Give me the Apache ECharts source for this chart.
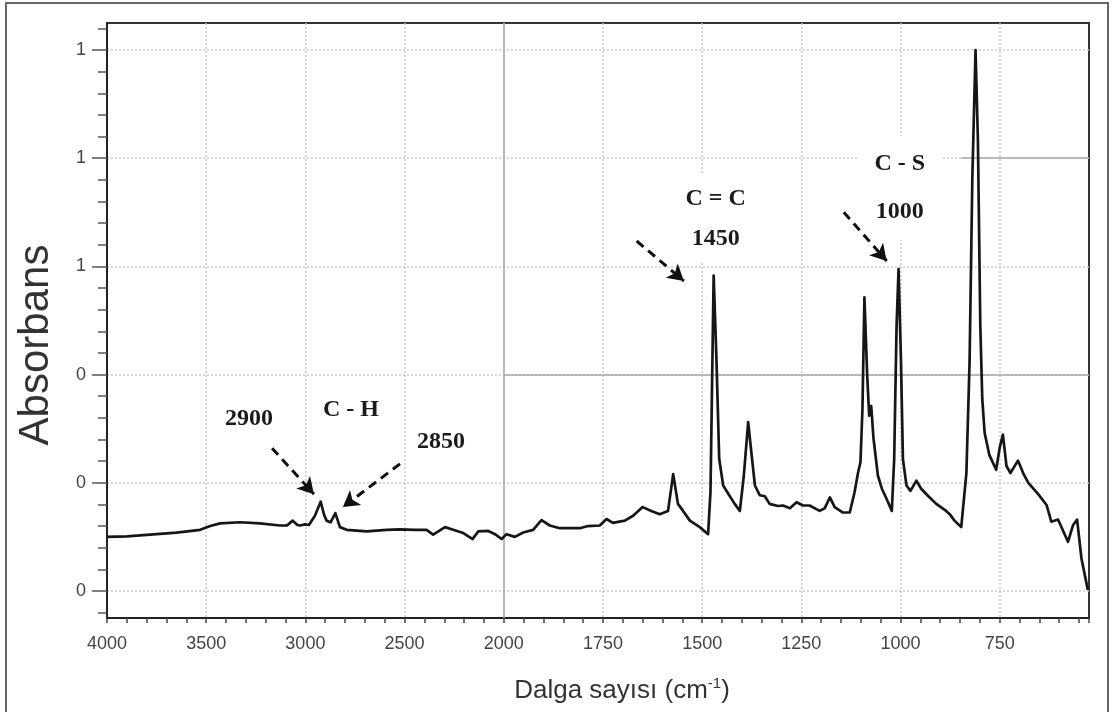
<!DOCTYPE html>
<html>
<head>
<meta charset="utf-8">
<script src="https://cdn.jsdelivr.net/npm/echarts@6/dist/echarts.min.js"></script>
<style>
  html, body { margin: 0; padding: 0; background: #fff; }
  #chart { width: 1112px; height: 712px; }
</style>
</head>
<body>
<div id="chart"></div>
<script>
// ---- data (wavenumber cm-1, absorbance) ----
const wavenumbers = [4000,3900,3783,3650,3530,3480,3430,3330,3229,3128,3093,3064,3040,3027,3002,2982,2952,2923,2905,2893,2873,2849,2826,2792,2692,2590,2523,2450,2389,2356,2330,2296,2255,2204,2157,2129,2078,2044,2011,1993,1972,1951,1926,1905,1884,1859,1808,1788,1758,1741,1725,1695,1674,1650,1628,1607,1586,1573,1561,1548,1531,1506,1485,1479,1471,1464,1457,1447,1431,1418,1405,1395,1384,1376,1367,1355,1342,1330,1309,1296,1279,1262,1246,1229,1204,1191,1178,1166,1145,1128,1116,1107,1101,1096,1091,1084,1079,1074,1068,1057,1047,1035,1022,1016,1010,1005,999,994,985,975,960,948,931,910,885,876,864,847,834,826,819,811,805,799,794,788,776,759,750,742,733,723,704,691,678,653,632,620,603,578,565,555,544,528];
const absorbance = [0.100,0.101,0.104,0.108,0.113,0.120,0.125,0.127,0.125,0.121,0.121,0.130,0.122,0.121,0.123,0.122,0.139,0.165,0.140,0.130,0.127,0.144,0.118,0.113,0.110,0.113,0.114,0.113,0.113,0.104,0.110,0.118,0.113,0.107,0.096,0.110,0.111,0.105,0.096,0.105,0.100,0.108,0.113,0.131,0.121,0.116,0.116,0.120,0.121,0.133,0.126,0.130,0.139,0.155,0.148,0.142,0.148,0.216,0.161,0.148,0.130,0.118,0.105,0.183,0.583,0.429,0.244,0.195,0.176,0.161,0.148,0.213,0.312,0.256,0.195,0.177,0.175,0.161,0.157,0.158,0.153,0.164,0.158,0.158,0.148,0.153,0.173,0.155,0.145,0.145,0.182,0.219,0.238,0.336,0.543,0.398,0.324,0.342,0.281,0.213,0.189,0.170,0.148,0.244,0.490,0.595,0.429,0.244,0.195,0.185,0.204,0.189,0.176,0.161,0.148,0.142,0.130,0.118,0.218,0.423,0.765,1.000,0.834,0.492,0.355,0.292,0.251,0.224,0.265,0.289,0.231,0.218,0.241,0.218,0.200,0.179,0.159,0.128,0.132,0.091,0.122,0.132,0.060,0.002];

// ---- axis ticks ----
const xTickLabels = ['4000','3500','3000','2500','2000','1750','1500','1250','1000','750'];
const yTickValues = [0, 0.2, 0.4, 0.6, 0.8, 1.0];
const yTickLabels = ['0','0','0','1','1','1'];
const yMinorTickValues = [-0.04,0,0.04,0.08,0.12,0.16,0.2,0.24,0.28,0.32,0.36,0.4,0.44,0.48,0.52,0.56,0.6,0.64,0.68,0.72,0.76,0.8,0.84,0.88,0.92,0.96,1.0,1.04];

// ---- annotations (wavenumber, absorbance) ----
const annotationTexts = [
  { text: 'C = C\n1450', wn: 1466, a: 0.688, lh: 40 },
  { text: 'C - S\n1000', wn: 1002, a: 0.745, lh: 48 },
  { text: '2900', wn: 3284, a: 0.318, lh: 28 },
  { text: 'C - H', wn: 2770, a: 0.335, lh: 28 },
  { text: '2850', wn: 2317, a: 0.275, lh: 28 }
];
const annotationArrows = [
  { from: [1665, 0.647], to: [1546, 0.573] },
  { from: [1143, 0.700], to: [1035, 0.610] },
  { from: [3168, 0.264], to: [2957, 0.179] },
  { from: [2523, 0.235], to: [2811, 0.155] }
];

// FTIR split scale: 500 cm-1 per division above 2000, 250 cm-1 per division below
function toT(wn) { return wn >= 2000 ? (4000 - wn) / 500 : 4 + (2000 - wn) / 250; }

const seriesData = wavenumbers.map((w, i) => [toT(w), absorbance[i]]);

const gridColor = '#c9c9c9';
const solidGrid = '#a8a8a8';

const chart = echarts.init(document.getElementById('chart'), null, { renderer: 'canvas' });
chart.setOption({
  animation: false,
  backgroundColor: '#fff',
  grid: { left: 107, right: 23, top: 23, bottom: 94, show: true, borderColor: '#333', borderWidth: 2, backgroundColor: 'transparent', containLabel: false, outerBoundsMode: 'none' },
  xAxis: {
    type: 'value', min: 0, max: toT(525), interval: 1,
    axisLine: { show: true, onZero: false, lineStyle: { color: '#222', width: 2 } },
    axisTick: { show: true, inside: false, length: 5, lineStyle: { color: '#444', width: 1.5 } },
    minorTick: { show: true, splitNumber: 5, length: 5, lineStyle: { color: '#444', width: 1.5 } },
    splitLine: { show: true, showMinLine: false, showMaxLine: false, lineStyle: { color: gridColor, type: [2, 2], width: 1.5 } },
    axisLabel: {
      margin: 17, color: '#444', fontSize: 18, fontFamily: 'Liberation Sans',
      showMaxLabel: false,
      formatter: v => { const i = Math.round(v); return Math.abs(v - i) < 1e-6 && xTickLabels[i] !== undefined ? xTickLabels[i] : ''; }
    }
  },
  yAxis: [{
    type: 'value', min: -0.05, max: 1.05,
    axisLine: { show: true, onZero: false, lineStyle: { color: '#222', width: 2 } },
    axisTick: { show: true, length: 15, customValues: yTickValues, lineStyle: { color: '#555', width: 1.5 } },
    splitLine: { show: true, lineStyle: { color: gridColor, type: [2, 2], width: 1.5 } },
    axisLabel: {
      margin: 21, color: '#444', fontSize: 18, fontFamily: 'Liberation Sans',
      customValues: yTickValues,
      formatter: v => { const i = yTickValues.findIndex(t => Math.abs(t - v) < 1e-6); return i >= 0 ? yTickLabels[i] : ''; }
    }
  }, {
    type: 'value', min: -0.05, max: 1.05, position: 'left',
    axisLine: { show: false },
    axisTick: { show: true, length: 9, customValues: yMinorTickValues, lineStyle: { color: '#555', width: 1.5 } },
    splitLine: { show: false },
    axisLabel: { show: false }
  }],
  series: [{
    type: 'line',
    yAxisIndex: 0,
    data: seriesData,
    showSymbol: false,
    symbol: 'none',
    smooth: false,
    z: 5,
    lineStyle: { color: '#161616', width: 2.7, join: 'round' },
    markLine: {
      silent: true,
      symbol: ['none', 'none'],
      label: { show: false },
      animation: false,
      z: 1,
      data: [
        [{ coord: [toT(2000), -0.05], lineStyle: { color: solidGrid, width: 1.5, type: 'solid' } }, { coord: [toT(2000), 1.05] }],
        [{ coord: [toT(2000), 0.4], lineStyle: { color: solidGrid, width: 1.5, type: 'solid' } }, { coord: [toT(525), 0.4] }],
        [{ coord: [toT(847), 0.8], lineStyle: { color: solidGrid, width: 1.5, type: 'solid' } }, { coord: [toT(525), 0.8] }]
      ]
    },
    markPoint: {
      silent: true,
      symbol: 'circle',
      symbolSize: 1,
      itemStyle: { color: 'rgba(0,0,0,0)' },
      z: 10,
      data: annotationTexts.map(d => ({
        coord: [toT(d.wn), d.a],
        label: {
          show: true, position: 'inside', formatter: d.text,
          fontFamily: 'Liberation Serif', fontWeight: 'bold', fontSize: 24,
          color: '#1a1a1a', lineHeight: d.lh, align: 'center',
          backgroundColor: d.text.indexOf('\n') >= 0 ? '#fff' : 'transparent',
          padding: d.text.indexOf('\n') >= 0 ? [4, 16] : 0
        }
      }))
    }
  }, {
    type: 'line',
    yAxisIndex: 0,
    data: [],
    z: 20,
    markLine: {
      silent: true,
      z: 20,
      symbol: ['none', 'arrow'],
      symbolSize: [14, 16],
      label: { show: false },
      animation: false,
      lineStyle: { color: '#111', width: 3, type: [9, 6] },
      data: annotationArrows.map(d => [{ coord: [toT(d.from[0]), d.from[1]] }, { coord: [toT(d.to[0]), d.to[1]] }])
    }
  }],
  graphic: [
    { type: 'rect', silent: true, shape: { x: 6, y: 3, width: 1102, height: 720 }, style: { fill: 'none', stroke: '#666', lineWidth: 2 }, z: -10 },
    { type: 'text', silent: true, x: 36, y: 345, rotation: Math.PI / 2,
      style: { text: 'Absorbans', font: '42px "Liberation Sans"', fill: '#333', textAlign: 'center', textVerticalAlign: 'middle' } },
    { type: 'text', silent: true, x: 622, y: 691,
      style: {
        text: '{a|Dalga sayısı (cm}{s|-1}{a|)}',
        textAlign: 'center', textVerticalAlign: 'middle',
        rich: {
          a: { font: '26px "Liberation Sans"', fill: '#333', fontSize: 26, fontFamily: 'Liberation Sans', color: '#333' },
          s: { font: '15px "Liberation Sans"', fill: '#333', fontSize: 15, fontFamily: 'Liberation Sans', color: '#333', verticalAlign: 'top', padding: [0, 0, 14, 0] }
        }
      } }
  ]
});
</script>
</body>
</html>
